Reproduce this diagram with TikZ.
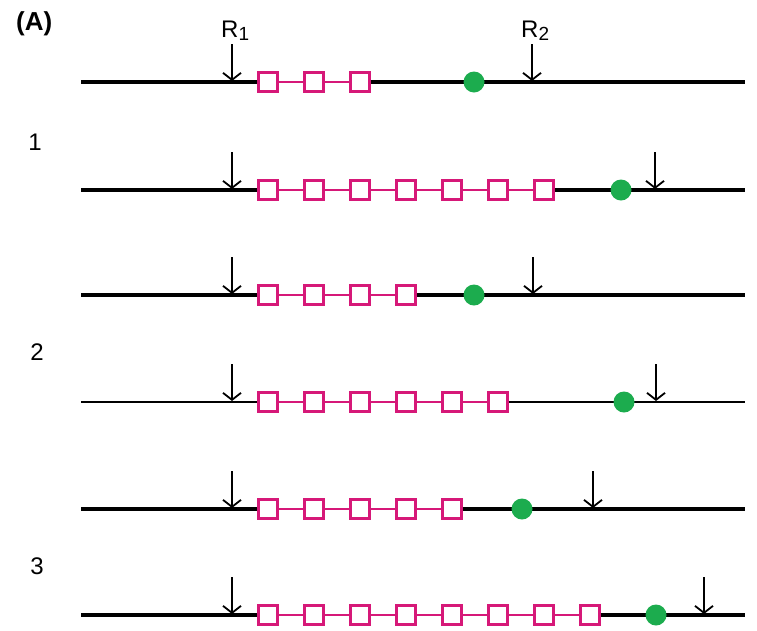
\documentclass[tikz,border=0pt]{standalone}
\usepackage{fontspec}
\setmainfont{Liberation Sans}
\usetikzlibrary{arrows.meta}
\definecolor{repcol}{RGB}{214,24,120}
\definecolor{oricol}{RGB}{28,172,78}
\tikzset{
  dna/.style={line width=3.1pt, black},
  thindna/.style={line width=1.2pt, black},
  rep/.style={draw=repcol, line width=2.8pt, fill=white, minimum size=19pt, inner sep=0pt},
  link/.style={draw=repcol, line width=2.6pt},
  origin/.style={circle, fill=oricol, minimum size=21pt, inner sep=0pt},
  cut/.style={-{Straight Barb[length=7pt,width=18pt]}, line width=1.8pt},
  lbl/.style={font=\fontsize{24}{26}\selectfont, inner sep=0pt},
}
% #1 name, #2 y, #3 number of repeats, #4 origin x, #5 second cut x, #6 line style
\newcommand\chromrow[6]{%
  \coordinate (#1L) at (81,#2);
  \coordinate (#1R) at (745,#2);
  \foreach \i in {1,...,#3}
    \node[rep] (#1s\i) at ({268+46*(\i-1)},#2) {};
  \draw[#6] (#1L) -- (#1s1.west);
  \draw[#6] (#1s#3.east) -- (#1R);
  \foreach \i [remember=\i as \j (initially 1)] in {2,...,#3}
    \draw[link] (#1s\j.east) -- (#1s\i.west);
  \node[origin] (#1o) at (#4,#2) {};
  \coordinate (#1ca) at (232,#2-38);
  \coordinate (#1cb) at (232,#2-1);
  \draw[cut] (#1ca) -- (#1cb);
  \coordinate (#1da) at (#5,#2-38);
  \coordinate (#1db) at (#5,#2-1);
  \draw[cut] (#1da) -- (#1db);
}
\begin{document}
\begin{tikzpicture}[x=1pt,y=-1pt]
\useasboundingbox (0,0) rectangle (757,630);
\node[lbl, anchor=west, font=\fontsize{26}{28}\selectfont] (panel) at (16,24) {\textbf{(A)}};
\node[lbl] (step1) at (35,142) {1};
\node[lbl] (step2) at (37,352) {2};
\node[lbl] (step3) at (37,566) {3};
\node[lbl, anchor=base west] (rone) at (221,37) {R\raisebox{-0.3ex}{\fontsize{19}{19}\selectfont 1}};
\node[lbl, anchor=base west] (rtwo) at (521,37) {R\raisebox{-0.3ex}{\fontsize{19}{19}\selectfont 2}};
\chromrow{a}{82}{3}{474}{532}{dna}
\chromrow{b}{190}{7}{621}{655}{dna}
\chromrow{c}{295}{4}{474}{533}{dna}
\chromrow{d}{402}{6}{624}{656}{thindna}
\chromrow{e}{509}{5}{522}{593}{dna}
\chromrow{f}{615}{8}{656}{704}{dna}
\end{tikzpicture}
\end{document}
